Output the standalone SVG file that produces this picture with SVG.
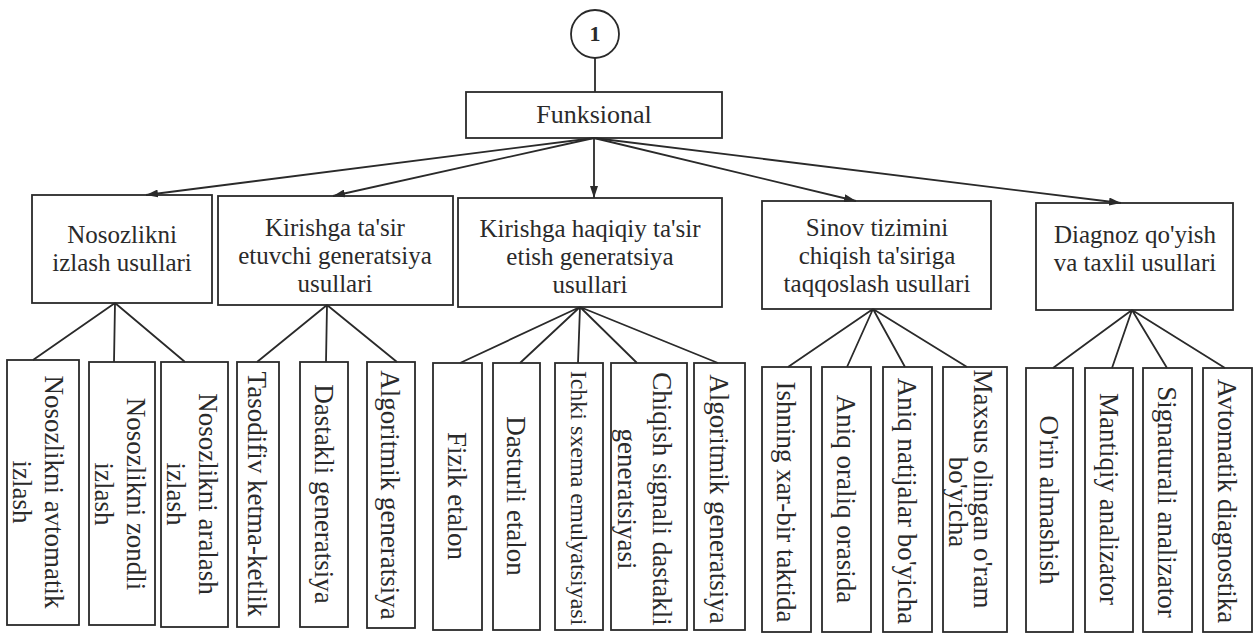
<svg xmlns="http://www.w3.org/2000/svg" width="1257" height="635" viewBox="0 0 1257 635">
<style>
  .box{fill:none;stroke:#2a2a2a;stroke-width:1.8}
  .ln{fill:none;stroke:#2a2a2a;stroke-width:1.8}
  .t{font-family:"Liberation Serif","Times New Roman",serif;font-size:25px;fill:#2a2a2a;text-anchor:middle}
  .v{font-family:"Liberation Serif","Times New Roman",serif;font-size:27px;fill:#2a2a2a;text-anchor:middle;dominant-baseline:central}
</style>
<defs>
  <marker id="ah" viewBox="0 0 12 8" refX="12" refY="4" markerWidth="12" markerHeight="8" markerUnits="userSpaceOnUse" orient="auto">
    <path d="M0,0 L12,4 L0,8 Z" fill="#2a2a2a"/>
  </marker>
</defs>
<rect width="1257" height="635" fill="#ffffff"/>

<g id="connectors">
  <line class="ln" x1="595" y1="58" x2="595" y2="92"/>
  <line class="ln" x1="594" y1="138" x2="146" y2="195" marker-end="url(#ah)"/>
  <line class="ln" x1="594" y1="138" x2="333" y2="196" marker-end="url(#ah)"/>
  <line class="ln" x1="594" y1="138" x2="594" y2="198" marker-end="url(#ah)"/>
  <line class="ln" x1="594" y1="138" x2="856" y2="201" marker-end="url(#ah)"/>
  <line class="ln" x1="594" y1="138" x2="1121" y2="203" marker-end="url(#ah)"/>
  <path class="ln" d="M115,303 L33,360 M115,303 L114,362 M115,303 L185,362"/>
  <path class="ln" d="M327,305 L257,362 M327,305 L326,362 M327,305 L397,362"/>
  <path class="ln" d="M580,307 L460,363 M580,307 L520,363 M580,307 L578,363 M580,307 L637,363 M580,307 L718,363"/>
  <path class="ln" d="M873,309 L788,367 M873,309 L847,367 M873,309 L905,367 M873,309 L967,367"/>
  <path class="ln" d="M1132,310 L1053,368 M1132,310 L1112,368 M1132,310 L1167,368 M1132,310 L1225,368"/>
</g>

<g id="n-circle">
  <circle cx="595" cy="34" r="24" class="box"/>
  <text class="t" x="595" y="41" style="font-weight:bold;font-size:22px">1</text>
</g>
<g id="n-funksional">
  <rect class="box" x="466" y="92" width="256" height="46"/>
  <text class="t" x="594" y="123" style="font-size:26px">Funksional</text>
</g>

<g id="n-m1">
  <rect class="box" x="32" y="195" width="180" height="108"/>
  <text class="t" x="122" y="243">Nosozlikni</text>
  <text class="t" x="122" y="271">izlash usullari</text>
</g>
<g id="n-m2">
  <rect class="box" x="218" y="196" width="235" height="109"/>
  <text class="t" x="335" y="236">Kirishga ta'sir</text>
  <text class="t" x="335" y="264">etuvchi generatsiya</text>
  <text class="t" x="335" y="292">usullari</text>
</g>
<g id="n-m3">
  <rect class="box" x="458" y="198" width="264" height="109"/>
  <text class="t" x="590" y="237">Kirishga haqiqiy ta'sir</text>
  <text class="t" x="590" y="265">etish generatsiya</text>
  <text class="t" x="590" y="293">usullari</text>
</g>
<g id="n-m4">
  <rect class="box" x="762" y="201" width="229" height="108"/>
  <text class="t" x="877" y="236">Sinov tizimini</text>
  <text class="t" x="877" y="264">chiqish ta'siriga</text>
  <text class="t" x="877" y="292">taqqoslash usullari</text>
</g>
<g id="n-m5">
  <rect class="box" x="1036" y="203" width="197" height="107"/>
  <text class="t" x="1135" y="243">Diagnoz qo'yish</text>
  <text class="t" x="1135" y="271">va taxlil usullari</text>
</g>

<g id="n-a">
  <rect class="box" x="7" y="360" width="72" height="265"/>
  <text class="v" transform="translate(54,492) rotate(90)">Nosozlikni avtomatik</text>
  <text class="v" transform="translate(22,492) rotate(90)">izlash</text>
</g>
<g id="n-b">
  <rect class="box" x="89" y="362" width="66" height="263"/>
  <text class="v" transform="translate(136,494) rotate(90)">Nosozlikni zondli</text>
  <text class="v" transform="translate(104,494) rotate(90)">izlash</text>
</g>
<g id="n-c">
  <rect class="box" x="161" y="362" width="67" height="265"/>
  <text class="v" transform="translate(208,494) rotate(90)">Nosozlikni aralash</text>
  <text class="v" transform="translate(176,494) rotate(90)">izlash</text>
</g>
<g id="n-d">
  <rect class="box" x="237" y="362" width="42" height="265"/>
  <text class="v" transform="translate(257,494) rotate(90)">Tasodifiv ketma-ketlik</text>
</g>
<g id="n-e">
  <rect class="box" x="300" y="362" width="48" height="265"/>
  <text class="v" transform="translate(324,494) rotate(90)">Dastakli generatsiya</text>
</g>
<g id="n-f">
  <rect class="box" x="367" y="362" width="48" height="266"/>
  <text class="v" transform="translate(390,495) rotate(90)">Algoritmik generatsiya</text>
</g>
<g id="n-g">
  <rect class="box" x="433" y="363" width="49" height="267"/>
  <text class="v" transform="translate(457,496) rotate(90)">Fizik etalon</text>
</g>
<g id="n-h">
  <rect class="box" x="493" y="363" width="47" height="267"/>
  <text class="v" transform="translate(516,496) rotate(90)">Dasturli etalon</text>
</g>
<g id="n-i">
  <rect class="box" x="555" y="363" width="48" height="267"/>
  <text class="v" transform="translate(579,498) rotate(90)" style="font-size:24px">Ichki sxema emulyatsiyasi</text>
</g>
<g id="n-j">
  <rect class="box" x="611" y="363" width="76" height="267"/>
  <text class="v" transform="translate(662,499) rotate(90)">Chiqish signali dastakli</text>
  <text class="v" transform="translate(627,499) rotate(90)">generatsiyasi</text>
</g>
<g id="n-k">
  <rect class="box" x="694" y="363" width="51" height="267"/>
  <text class="v" transform="translate(719,499) rotate(90)">Algoritmik generatsiya</text>
</g>
<g id="n-l">
  <rect class="box" x="762" y="367" width="49" height="265"/>
  <text class="v" transform="translate(786,502) rotate(90)">Ishning xar-bir taktida</text>
</g>
<g id="n-m">
  <rect class="box" x="822" y="367" width="49" height="265"/>
  <text class="v" transform="translate(846,499) rotate(90)">Aniq oraliq orasida</text>
</g>
<g id="n-n">
  <rect class="box" x="883" y="367" width="49" height="265"/>
  <text class="v" transform="translate(907,501) rotate(90)">Aniq natijalar bo'yicha</text>
</g>
<g id="n-o">
  <rect class="box" x="943" y="367" width="64" height="265"/>
  <text class="v" transform="translate(983,489) rotate(90)">Maxsus olingan o'ram</text>
  <text class="v" transform="translate(958,502) rotate(90)">bo'yicha</text>
</g>
<g id="n-p">
  <rect class="box" x="1026" y="368" width="47" height="264"/>
  <text class="v" transform="translate(1049,500) rotate(90)">O'rin almashish</text>
</g>
<g id="n-q">
  <rect class="box" x="1085" y="368" width="48" height="264"/>
  <text class="v" transform="translate(1109,499) rotate(90)">Mantiqiy analizator</text>
</g>
<g id="n-r">
  <rect class="box" x="1143" y="368" width="49" height="264"/>
  <text class="v" transform="translate(1167,502) rotate(90)">Signaturali analizator</text>
</g>
<g id="n-s">
  <rect class="box" x="1203" y="368" width="49" height="264"/>
  <text class="v" transform="translate(1227,501) rotate(90)">Avtomatik diagnostika</text>
</g>
</svg>
